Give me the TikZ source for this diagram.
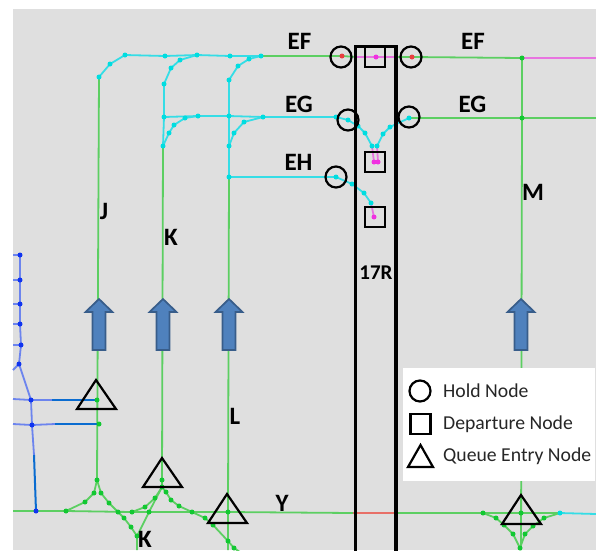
\documentclass[tikz,border=0pt]{standalone}
\usepackage{fontspec}
\setmainfont{Carlito}
\definecolor{bggray}{HTML}{DFDFDF}
\definecolor{cyanline}{HTML}{35DDE6}
\definecolor{cyandot}{HTML}{00DDE0}
\definecolor{greenline}{HTML}{5CCF62}
\definecolor{greendot}{HTML}{12C832}
\definecolor{magline}{HTML}{E874E0}
\definecolor{magdot}{HTML}{F030E0}
\definecolor{redline}{HTML}{E87068}
\definecolor{reddot}{HTML}{E84040}
\definecolor{blueline}{HTML}{6C84EE}
\definecolor{bluedot}{HTML}{1034F0}
\definecolor{deepblue}{HTML}{0A6CD0}
\definecolor{arrowfill}{HTML}{4F81BD}
\definecolor{arrowedge}{HTML}{385D8A}
\tikzset{
  cy/.style={cyanline,line width=1.8pt},
  gr/.style={greenline,line width=1.8pt},
  mg/.style={magline,line width=1.8pt},
  rd/.style={redline,line width=1.8pt},
  bl/.style={blueline,line width=1.8pt},
  db/.style={deepblue,line width=2pt},
  mk/.style={black,line width=2.2pt,fill=none},
  holdnode/.style={circle,draw=black,line width=2.2pt,minimum size=21pt,inner sep=0pt},
  depnode/.style={rectangle,draw=black,line width=2.2pt,minimum size=20pt,inner sep=0pt},
  lab/.style={font=\bfseries\fontsize{25}{25}\selectfont,inner sep=0pt,text=black},
  leg/.style={font=\fontsize{19.7}{20}\selectfont,inner sep=0pt,anchor=west,text=black!85},
  dotc/.style={circle,fill=cyandot,inner sep=0pt,minimum size=5pt},
  dotg/.style={circle,fill=greendot,inner sep=0pt,minimum size=5pt},
  dotm/.style={circle,fill=magdot,inner sep=0pt,minimum size=5pt},
  dotr/.style={circle,fill=reddot,inner sep=0pt,minimum size=5pt},
  dotb/.style={circle,fill=bluedot,inner sep=0pt,minimum size=5pt},
}
\begin{document}
\begin{tikzpicture}[x=1pt,y=-1pt]
\useasboundingbox (0,0) rectangle (596,550);
\fill[bggray] (13,9) rectangle (596,550);
% free ends
\foreach \n/\x/\y in {
 lY/13/511, rY/596/514, rEF/596/58, rEG/596/118, bK/137/550, bL/228/550, bM/521/550, bLd/240/552,
 s1/13/255, s2/13/280, s3/13/304, s4/13/324, s5/13/345, s6/13/370, s7/13/399, s8/13/424,
 gEFa/356/57, gEFb/395/57, mY1/353/513, mY2/394/513, b1m/52/400, b2m/55/424, b3m/34/455}
 {\coordinate (\n) at (\x,\y);}
% cyan dots
\foreach \n/\x/\y in {
 a1/99/77, a2/110/64, a3/125/55, t1/165/56, t2/197/55, t3/230/56, t4/261/56,
 k1/164/84, k2/171/68, k3/180/60, l1/229/80, l2/238/66, l3/249/59,
 g1/164/117, g2/198/116, g3/229/116, g4/263/117, g5/336/117, g6/348/120, g7/358/126, g8/365/133, g9/372/146,
 m1/163/146, m2/169/133, m3/174/125, m4/185/118,
 n1/229/146, n2/234/133, n3/244/122,
 h1/229/177, h2/336/177, h3/352/184, h4/364/193, h5/371/203,
 r1/409/118, r2/390/127, r3/383/134, r4/377/146, yc/560/513}
 {\coordinate (\n) at (\x,\y);}
% green dots
\foreach \n/\x/\y in {
 M1/522/58, M2/522/118, J1/97/480, J2/94/493, J3/101/493, J4/85/502, J5/66/511,
 J6/109/503, J7/118/512, J8/124/518, J9/131/527, K0/137/536,
 Q1/149/512, Q2/162/487, Q3/132/512, Q4/145/507, Q5/155/498, Q6/162/480,
 P1/166/492, P2/171/500, P3/179/506, P4/192/512, P5/205/518, P6/213/525, P7/228/541, P8/234/548, P9/228/512,
 E1/97/400, E2/99/424, R0/521/513, R1/483/513, R2/496/518, R3/504/525, R4/513/534, R5/520/548,
 R6/544/518, R7/533/526, R8/525/534, Yd/36/511}
 {\coordinate (\n) at (\x,\y);}
% magenta and red dots
\foreach \n/\x/\y in {D1/376/57, D2/374/162, D3/378/162, D4/374/217, HL/342/56, HR/412/57}
 {\coordinate (\n) at (\x,\y);}
% blue dots
\foreach \n/\x/\y in {B1/20/255, B2/20/280, B3/20/304, B4/20/324, B5/21/345, B6/19/364, B7/31/400, B8/32/425}
 {\coordinate (\n) at (\x,\y);}
% green lines
\draw[gr] (t4)--(HL)--(gEFa);
\draw[gr] (gEFb)--(HR)--(M1);
\draw[gr] (r1)--(M2)--(rEG);
\draw[gr] (M1)--(M2)--(bM);
\draw[gr] (a1)--(J1);
\draw[gr] (m1)--(Q6)--(Q2);
\draw[gr] (h1)--(P9)--(bL);
\draw[gr] (lY)--(Yd)--(J5)--(Q3)--(J7)--(Q1)--(P4)--(P9)--(mY1);
\draw[gr] (mY2)--(R1)--(R0)--(yc);
\draw[gr] (J1)--(J2)--(J4)--(J5);
\draw[gr] (J1)--(J3)--(J6)--(J7)--(J8)--(J9)--(K0)--(bK);
\draw[gr] (K0)--(Q1)--(Q2);
\draw[gr] (Q3)--(Q4)--(Q5)--(Q2);
\draw[gr] (Q2)--(P1)--(P2)--(P3)--(P4)--(P5)--(P6)--(P7)--(P8)--(bLd);
\draw[gr] (R1)--(R2)--(R3)--(R4)--(R5);
\draw[gr] (yc)--(R6)--(R7)--(R8)--(R5);
\draw[gr] (R0)--(bM);
% cyan lines
\draw[cy] (a1)--(a2)--(a3)--(t1)--(t2)--(t3)--(t4);
\draw[cy] (k1)--(k2)--(k3)--(t2);
\draw[cy] (l1)--(l2)--(l3)--(t4);
\draw[cy] (k1)--(g1)--(m1);
\draw[cy] (g1)--(g2)--(g3)--(g4)--(g5)--(g6)--(g7)--(g8)--(g9);
\draw[cy] (m1)--(m2)--(m3)--(m4)--(g2);
\draw[cy] (l1)--(g3)--(n1)--(h1);
\draw[cy] (n1)--(n2)--(n3)--(g4);
\draw[cy] (h1)--(h2)--(h3)--(h4)--(h5);
\draw[cy] (r1)--(r2)--(r3)--(r4);
\draw[cy] (yc)--(rY);
% magenta and red lines
\draw[mg] (gEFa)--(D1)--(gEFb);
\draw[mg] (M1)--(rEF);
\draw[mg] (g9)--(D2);
\draw[mg] (r4)--(D3);
\draw[mg] (h5)--(D4);
\draw[rd] (mY1)--(mY2);
% blue network
\draw[bl] (B1)--(B2)--(B3)--(B4)--(B5)--(B6)--(B7)--(B8)--(b3m);
\draw[bl] (s1)--(B1) (s2)--(B2) (s3)--(B3) (s4)--(B4) (s5)--(B5) (s6)--(B6);
\draw[bl] (s7)--(B7)--(b1m) (s8)--(B8)--(b2m);
\draw[db] (b1m)--(E1);
\draw[db] (b2m)--(E2);
\draw[db] (b3m)--(Yd);
% dots
\foreach \n in {a1,a2,a3,t1,t2,t3,t4,k1,k2,k3,l1,l2,l3,g1,g2,g3,g4,g5,g6,g7,g8,g9,m1,m2,m3,m4,n1,n2,n3,h1,h2,h3,h4,h5,r1,r2,r3,r4,yc}
 {\node[dotc] (\n-dot) at (\n) {};}
\foreach \n in {M1,M2,J1,J2,J3,J4,J5,J6,J7,J8,J9,K0,Q1,Q2,Q3,Q4,Q5,Q6,P1,P2,P3,P4,P5,P6,P7,P8,P9,E1,E2,R0,R1,R2,R3,R4,R5,R6,R7,R8}
 {\node[dotg] (\n-dot) at (\n) {};}
\foreach \n in {D1,D2,D3,D4} {\node[dotm] (\n-dot) at (\n) {};}
\foreach \n in {HL,HR} {\node[dotr] (\n-dot) at (\n) {};}
\foreach \n in {B1,B2,B3,B4,B5,B6,B7,B8,Yd} {\node[dotb] (\n-dot) at (\n) {};}
% departure arrows
\foreach \n/\x in {arrJ/99,arrK/163,arrL/229,arrM/521}
 {\draw[arrowedge,fill=arrowfill,line width=1.7pt,line join=miter]
   (\x,299)--(\x+13.5,312)--(\x+6.5,312)--(\x+6.5,350)--(\x-6.5,350)--(\x-6.5,312)--(\x-13.5,312)--cycle;}
% runway
\draw[black,line width=3.2pt] (355.5,552)--(355.5,46.5)--(396,46.5)--(396,552);
% hold nodes
\node[holdnode] (hold1) at (341,57) {};
\node[holdnode] (hold2) at (411,57) {};
\node[holdnode] (hold3) at (348,120) {};
\node[holdnode] (hold4) at (409,117) {};
\node[holdnode] (hold5) at (336,177) {};
% departure nodes
\node[depnode] (dep1) at (375,57) {};
\node[depnode] (dep2) at (375,162) {};
\node[depnode] (dep3) at (375,217) {};
% queue entry nodes
\draw[mk] (96,380)--(116,409)--(77,409)--cycle;
\draw[mk] (162,458)--(182,487)--(143,487)--cycle;
\draw[mk] (227,494)--(247,523)--(208,523)--cycle;
\draw[mk] (521,495)--(541,524)--(502,524)--cycle;
% labels
\node[lab] (tEF1) at (299.5,41.5) {EF};
\node[lab] (tEF2) at (473,41.5) {EF};
\node[lab] (tEG1) at (299,104.5) {EG};
\node[lab] (tEG2) at (472.5,104.5) {EG};
\node[lab] (tEH) at (298.5,162.5) {EH};
\node[lab] (tM) at (533,192) {M};
\node[lab] (tJ) at (104,211) {J};
\node[lab] (tK1) at (171,237) {K};
\node[lab] (tL) at (235,416) {L};
\node[lab] (tY) at (282,503) {Y};
\node[lab] (tK2) at (145,539.5) {K};
\node[lab,font=\bfseries\fontsize{21}{21}\selectfont] (tR) at (376,273) {17R};
% legend
\fill[white] (403,368) rectangle (595,481);
\node[holdnode] (legC) at (420,391) {};
\node[depnode] (legS) at (420.5,424) {};
\draw[mk] (420.5,445)--(433,467)--(408,467)--cycle;
\node[leg] (legT1) at (443,391) {Hold Node};
\node[leg] (legT2) at (443,424) {Departure Node};
\node[leg] (legT3) at (443,456) {Queue Entry Node};
\end{tikzpicture}
\end{document}
